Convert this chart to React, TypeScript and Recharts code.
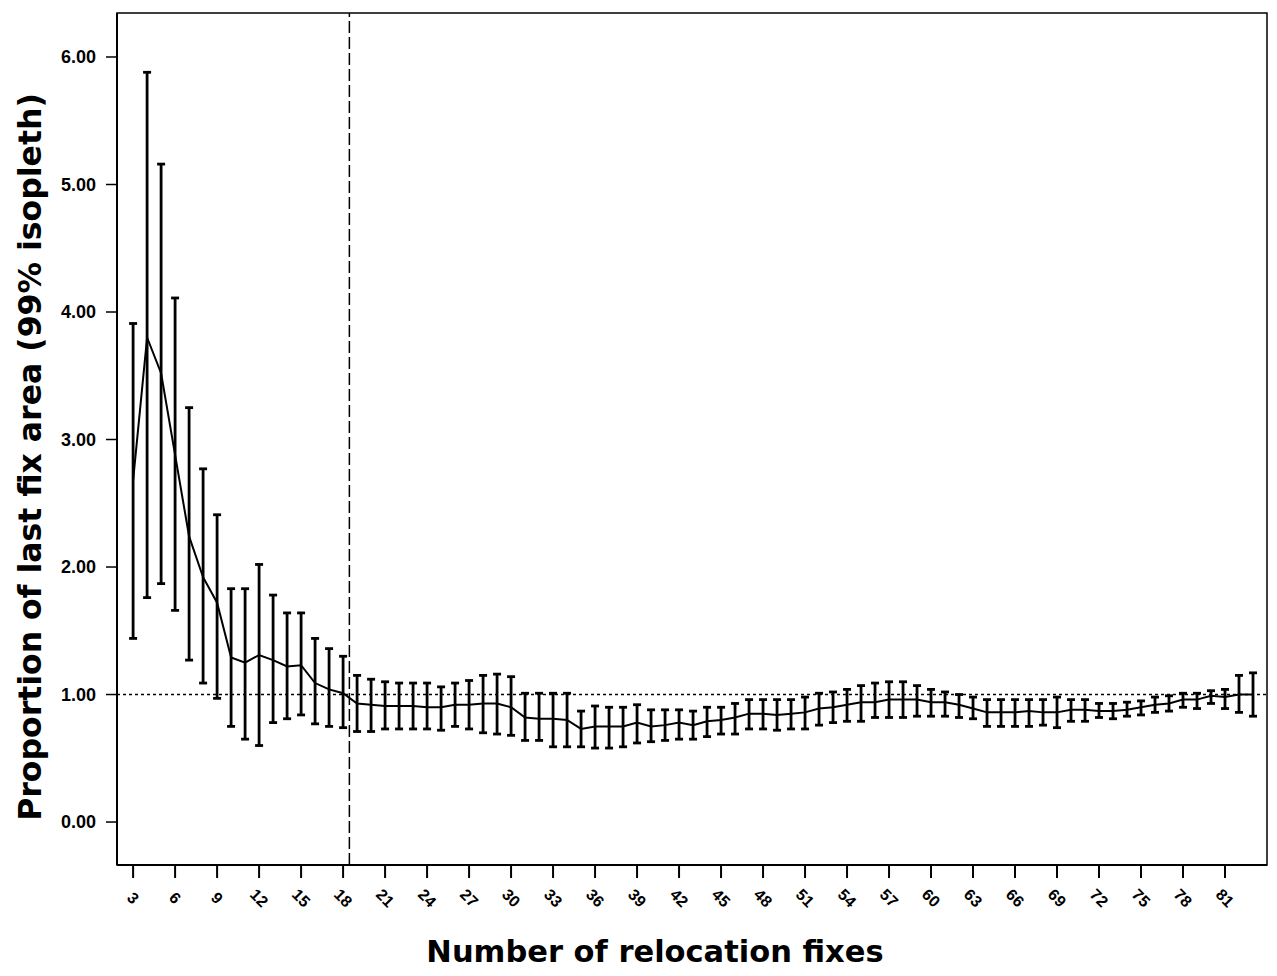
import { ComposedChart, Line, XAxis, YAxis, ErrorBar, ReferenceLine, ReferenceArea, Label } from 'recharts';

// number of relocation fixes
const fixes = [
  3, 4, 5, 6, 7, 8, 9, 10, 11, 12, 13, 14, 15, 16, 17, 18, 19, 20, 21, 22,
  23, 24, 25, 26, 27, 28, 29, 30, 31, 32, 33, 34, 35, 36, 37, 38, 39, 40, 41, 42,
  43, 44, 45, 46, 47, 48, 49, 50, 51, 52, 53, 54, 55, 56, 57, 58, 59, 60, 61, 62,
  63, 64, 65, 66, 67, 68, 69, 70, 71, 72, 73, 74, 75, 76, 77, 78, 79, 80, 81, 82, 83,
];

// mean proportion of last fix area
const meanValues = [
  2.68, 3.80, 3.52, 2.88, 2.24, 1.92, 1.72, 1.29, 1.25, 1.31, 1.27, 1.22, 1.23, 1.09, 1.04, 1.01, 0.93, 0.92, 0.91, 0.91,
  0.91, 0.90, 0.90, 0.92, 0.92, 0.93, 0.93, 0.90, 0.82, 0.81, 0.81, 0.80, 0.73, 0.75, 0.75, 0.75, 0.78, 0.75, 0.76, 0.78,
  0.76, 0.79, 0.80, 0.82, 0.85, 0.85, 0.84, 0.85, 0.86, 0.89, 0.90, 0.92, 0.94, 0.94, 0.96, 0.96, 0.96, 0.94, 0.94, 0.92,
  0.89, 0.86, 0.86, 0.86, 0.87, 0.86, 0.86, 0.88, 0.88, 0.87, 0.87, 0.88, 0.90, 0.92, 0.93, 0.96, 0.96, 0.99, 0.98, 1.00, 1.00,
];

// upper bound of the interval
const upperValues = [
  3.91, 5.88, 5.16, 4.11, 3.25, 2.77, 2.41, 1.83, 1.83, 2.02, 1.78, 1.64, 1.64, 1.44, 1.36, 1.30, 1.15, 1.12, 1.10, 1.09,
  1.09, 1.09, 1.06, 1.09, 1.11, 1.15, 1.16, 1.14, 1.01, 1.01, 1.01, 1.01, 0.87, 0.91, 0.90, 0.90, 0.92, 0.88, 0.88, 0.88,
  0.87, 0.90, 0.90, 0.93, 0.96, 0.96, 0.96, 0.96, 0.98, 1.01, 1.02, 1.04, 1.07, 1.09, 1.10, 1.10, 1.07, 1.04, 1.02, 1.00,
  0.98, 0.96, 0.96, 0.96, 0.96, 0.96, 0.98, 0.96, 0.96, 0.93, 0.93, 0.94, 0.95, 0.98, 0.99, 1.01, 1.01, 1.03, 1.04, 1.15, 1.17,
];

// lower bound of the interval
const lowerValues = [
  1.44, 1.76, 1.87, 1.66, 1.27, 1.09, 0.97, 0.75, 0.65, 0.60, 0.78, 0.81, 0.84, 0.77, 0.75, 0.74, 0.71, 0.71, 0.73, 0.73,
  0.73, 0.73, 0.72, 0.75, 0.73, 0.70, 0.69, 0.68, 0.64, 0.64, 0.59, 0.59, 0.59, 0.58, 0.58, 0.59, 0.62, 0.63, 0.64, 0.65,
  0.65, 0.67, 0.69, 0.69, 0.73, 0.73, 0.72, 0.73, 0.73, 0.76, 0.78, 0.79, 0.79, 0.82, 0.82, 0.82, 0.83, 0.83, 0.83, 0.82,
  0.81, 0.75, 0.75, 0.75, 0.75, 0.76, 0.74, 0.79, 0.79, 0.82, 0.81, 0.83, 0.84, 0.86, 0.87, 0.90, 0.89, 0.93, 0.89, 0.86, 0.83,
];

const xTicks = [3, 6, 9, 12, 15, 18, 21, 24, 27, 30, 33, 36, 39, 42, 45, 48, 51, 54, 57, 60, 63, 66, 69, 72, 75, 78, 81];
const yTicks = [0, 1, 2, 3, 4, 5, 6];

const X_DOMAIN: [number, number] = [1.85, 84];
const Y_DOMAIN: [number, number] = [-0.337, 6.345];

const chartData = fixes.map((n, i) => ({
  n,
  mean: meanValues[i],
  err: [meanValues[i] - lowerValues[i], upperValues[i] - meanValues[i]],
}));

const XTick = ({ x, y, payload }: any) => (
  <g transform={`translate(${x},${y + 18})`}>
    <text
      transform="rotate(45)"
      textAnchor="middle"
      dominantBaseline="central"
      fontFamily="'Liberation Sans', Arial, sans-serif"
      fontWeight="bold"
      fontSize={16}
      fill="#000"
    >
      {payload.value}
    </text>
  </g>
);

const App = () => {
  return (
    <div style={{ position: 'absolute', left: 0, top: 0, background: '#fff' }}>
      <ComposedChart
        width={1277}
        height={976}
        data={chartData}
        margin={{ top: 13, right: 10, bottom: 51, left: 17 }}
      >
        <ReferenceArea
          x1={X_DOMAIN[0]}
          x2={X_DOMAIN[1]}
          y1={Y_DOMAIN[0]}
          y2={Y_DOMAIN[1]}
          fill="none"
          fillOpacity={0}
          stroke="#000"
          strokeWidth={1.5}
        />
        <XAxis
          dataKey="n"
          type="number"
          domain={X_DOMAIN}
          allowDataOverflow
          ticks={xTicks}
          interval={0}
          height={60}
          tickSize={13}
          tickMargin={2}
          tick={<XTick />}
          axisLine={{ stroke: '#000', strokeWidth: 2 }}
          tickLine={{ stroke: '#000', strokeWidth: 2 }}
        >
          <Label
            content={() => (
              <text
                x={655}
                y={962}
                textAnchor="middle"
                fontFamily="'DejaVu Sans', sans-serif"
                fontWeight="bold"
                fontSize={30.5}
                fill="#000"
              >
                Number of relocation fixes
              </text>
            )}
          />
        </XAxis>
        <YAxis
          type="number"
          domain={Y_DOMAIN}
          allowDataOverflow
          ticks={yTicks}
          interval={0}
          width={100}
          tickSize={11}
          tickMargin={10}
          tickFormatter={(v: number) => v.toFixed(2)}
          tick={{ fill: '#000', fontFamily: "'Liberation Sans', Arial, sans-serif", fontWeight: 'bold', fontSize: 18 }}
          axisLine={{ stroke: '#000', strokeWidth: 2 }}
          tickLine={{ stroke: '#000', strokeWidth: 1.5 }}
        >
          <Label
            content={() => (
              <text
                x={41}
                y={457}
                transform="rotate(-90 41 457)"
                textAnchor="middle"
                fontFamily="'DejaVu Sans', sans-serif"
                fontWeight="bold"
                fontSize={31.5}
                fill="#000"
              >
                Proportion of last fix area (99% isopleth)
              </text>
            )}
          />
        </YAxis>
        <ReferenceLine y={1} stroke="#000" strokeWidth={1.5} strokeDasharray="3 3" />
        <ReferenceLine x={18.45} stroke="#000" strokeWidth={1.5} strokeDasharray="12 4" />
        <Line
          type="linear"
          dataKey="mean"
          stroke="#000"
          strokeWidth={2}
          dot={false}
          activeDot={false}
          isAnimationActive={false}
        >
          <ErrorBar dataKey="err" direction="y" width={4} stroke="#000" strokeWidth={2.8} isAnimationActive={false} />
        </Line>
      </ComposedChart>
    </div>
  );
};

export default App;
